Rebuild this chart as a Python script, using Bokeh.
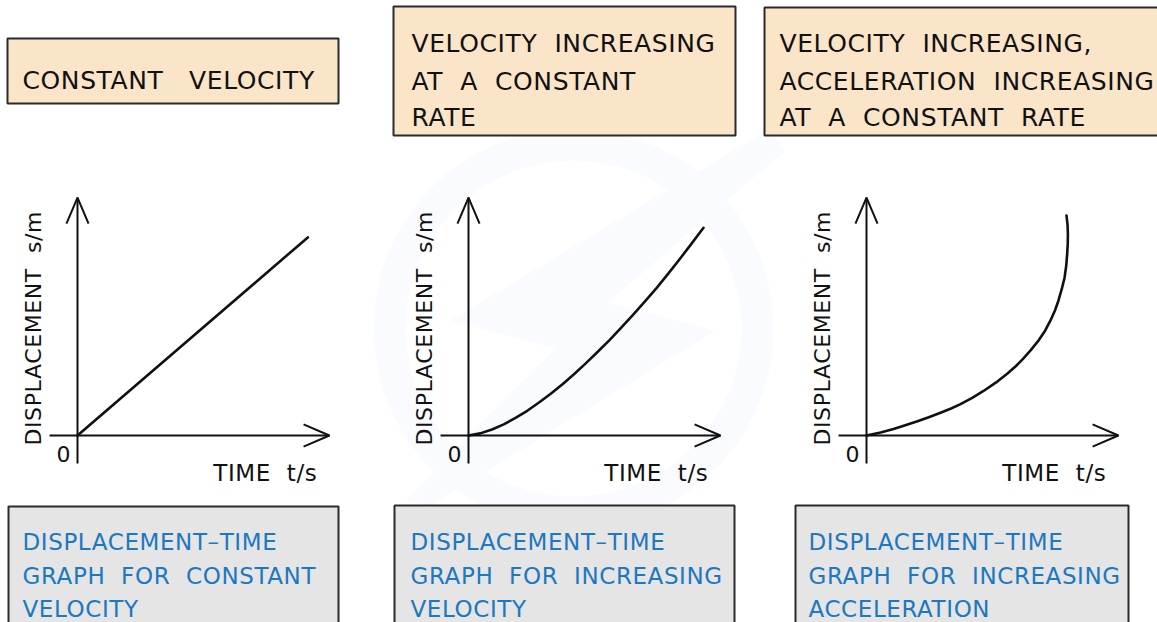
from bokeh.plotting import figure
from bokeh.models import Range1d
from bokeh.embed import file_html
from bokeh.resources import INLINE
from bokeh.core.properties import value

NB = "\u00a0"

# ---------------- data ----------------
titles = [
    ["CONSTANT" + NB * 2 + " VELOCITY"],
    ["VELOCITY" + NB + " INCREASING", "AT" + NB + " A" + NB + " CONSTANT", "RATE"],
    ["VELOCITY" + NB + " INCREASING,", "ACCELERATION" + NB + " INCREASING",
     "AT" + NB + " A" + NB + " CONSTANT" + NB + " RATE"],
]
captions = [
    ["DISPLACEMENT\u2013TIME", "GRAPH" + NB + " FOR" + NB + " CONSTANT", "VELOCITY"],
    ["DISPLACEMENT\u2013TIME", "GRAPH" + NB + " FOR" + NB + " INCREASING", "VELOCITY"],
    ["DISPLACEMENT\u2013TIME", "GRAPH" + NB + " FOR" + NB + " INCREASING", "ACCELERATION"],
]
y_label = "DISPLACEMENT" + NB + " s/m"
x_label = "TIME" + NB + " t/s"
origin_label = "0"

# constant velocity (straight line)
t_const = [0.0, 9.8]
s_const = [0.0, 9.3]
# velocity increasing at a constant rate
t_vel = [0, 0.5, 1, 1.5, 2, 2.5, 3, 3.5, 4, 4.5, 5, 5.5, 6, 6.5, 7, 7.5, 8, 8.5, 9, 9.5, 10]
s_vel = [0.0, 0.10, 0.28, 0.52, 0.83, 1.16, 1.55, 1.96, 2.41, 2.89, 3.40, 3.93, 4.48,
         5.06, 5.66, 6.28, 6.92, 7.60, 8.30, 9.02, 9.75]
# acceleration increasing
t_acc = [0.0, 0.6, 1.15, 1.65, 2.17, 2.65, 3.15, 3.6, 4.0, 4.5, 4.98, 5.5, 6.0, 6.35,
         6.68, 7.0, 7.32, 7.6, 7.83, 8.02, 8.17, 8.31, 8.43, 8.50, 8.54, 8.565, 8.57, 8.555, 8.51]
s_acc = [0.0, 0.14, 0.30, 0.48, 0.67, 0.86, 1.07, 1.27, 1.47, 1.77, 2.09, 2.48, 2.91, 3.25,
         3.62, 4.02, 4.46, 4.92, 5.40, 5.87, 6.34, 6.88, 7.42, 7.98, 8.54, 9.01, 9.48, 9.90, 10.33]

curves = [(t_const, s_const), (t_vel, s_vel), (t_acc, s_acc)]

# ---------------- layout / style ----------------
W, H = 1157, 622
X0, X1, Y0, Y1 = 0, W, 0, H
ORIGINS = [(77, 435), (468, 435), (866, 435)]
UX, UY = 23.5, 21.3
T_MIN, T_MAX = -1.19, 10.72
S_MIN, S_MAX = -1.31, 11.17
ARM_T, ARM_S = 0.47, 0.52
ARM_BACK_T, ARM_BACK_S = 1.10, 1.22

FONT = value("DejaVu Sans")
PEACH = "#FAE5C9"
GREY = "#E5E5E5"
BLUE = "#1C78C0"
INK = "#111111"
WATER = "#F9FBFE"

title_boxes = [(7, 38, 338, 103), (393, 6, 735, 135), (764, 7, 1170, 135)]
title_x = [22, 411, 779]
title_base = [[80], [43, 81, 117], [43, 81, 117]]
cap_boxes = [(8, 506, 338, 640), (394, 505, 734, 640), (795, 505, 1128, 640)]
cap_x = [22, 410, 808]
cap_base = [541, 575, 608]

bolt_x = [770, 450, 555, 405, 430, 715, 607, 785]
bolt_y = [128, 320, 348, 500, 505, 330, 302, 150]

p = figure(width=W, height=H, x_range=Range1d(X0, X1), y_range=Range1d(Y1, Y0),
           min_border=0, toolbar_location=None, output_backend="svg",
           x_axis_location=None, y_axis_location=None)
p.grid.visible = False
p.outline_line_color = None
p.background_fill_color = "white"
p.styles = {"letter-spacing": "0.6px"}

# faint watermark
p.annulus(x=[573], y=[328], inner_radius=168, outer_radius=200,
          fill_color=WATER, line_color=None)
p.patch(bolt_x, bolt_y, fill_color=WATER, line_color=None)

# boxes and texts
for i in range(3):
    l, t, r, b = title_boxes[i]
    p.quad(left=[l], right=[r], top=[t], bottom=[b], fill_color=PEACH,
           line_color="#2a2a2a", line_width=2)
    p.text(x=[title_x[i]] * len(titles[i]), y=title_base[i], text=titles[i],
           text_font=FONT, text_font_size="25px", text_color=INK,
           text_baseline="alphabetic", text_align="left")
    l, t, r, b = cap_boxes[i]
    p.quad(left=[l], right=[r], top=[t], bottom=[b], fill_color=GREY,
           line_color="#2a2a2a", line_width=2)
    p.text(x=[cap_x[i]] * 3, y=cap_base, text=captions[i],
           text_font=FONT, text_font_size="23px", text_color=BLUE,
           text_baseline="alphabetic", text_align="left")

# graphs, each in its own data space via extra ranges
for i, (ox, oy) in enumerate(ORIGINS):
    name = f"g{i}"
    p.extra_x_ranges[name] = Range1d((X0 - ox) / UX, (X1 - ox) / UX)
    p.extra_y_ranges[name] = Range1d((oy - Y1) / UY, (oy - Y0) / UY)
    kw = dict(x_range_name=name, y_range_name=name)
    # axes
    p.line([T_MIN, T_MAX], [0, 0], line_color=INK, line_width=2, **kw)
    p.line([0, 0], [S_MIN, S_MAX], line_color=INK, line_width=2, **kw)
    # arrowheads
    p.line([T_MAX - ARM_BACK_T, T_MAX, T_MAX - ARM_BACK_T], [ARM_S, 0, -ARM_S],
           line_color=INK, line_width=2, **kw)
    p.line([-ARM_T, 0, ARM_T], [S_MAX - ARM_BACK_S, S_MAX, S_MAX - ARM_BACK_S],
           line_color=INK, line_width=2, **kw)
    # curve
    tx, sy = curves[i]
    p.line(tx, sy, line_color=INK, line_width=2.6, line_cap="round",
           line_join="round", **kw)
    # labels
    p.text(x=[-0.6], y=[-0.85], text=[origin_label], text_font=FONT,
           text_font_size="22px", text_color=INK, text_align="center",
           text_baseline="middle", **kw)
    p.text(x=[5.78], y=[-1.78], text=[x_label], text_font=FONT,
           text_font_size="23px", text_color=INK, text_align="left",
           text_baseline="alphabetic", **kw)
    p.text(x=[-1.87], y=[-0.47], text=[y_label], text_font=FONT,
           text_font_size="22px", text_color=INK, text_align="left",
           text_baseline="alphabetic", angle=1.5708, **kw)

open("out.html", "w").write(file_html(p, INLINE))
